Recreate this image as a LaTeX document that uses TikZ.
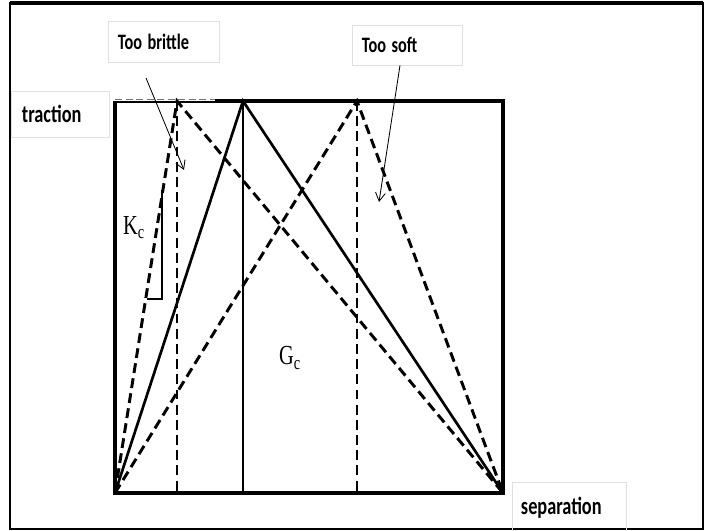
\documentclass[tikz,border=0pt]{standalone}
\usepackage{graphicx}
\usepackage{fontspec}
\setmainfont{Liberation Serif}
\newfontfamily\calib{Carlito}
\usepackage{tikz}
\usetikzlibrary{arrows.meta, positioning, calc}
\tikzset{
    tsframe/.style={line width=2.7pt},
    tssolid/.style={line width=1.9pt},
    tsdash/.style={line width=2.1pt, dash pattern=on 7pt off 3.8pt},
    tslabel/.style={draw=black!12, line width=0.6pt, inner xsep=0.25cm, align=left, font=\calib\bfseries\fontsize{11.6}{14}\selectfont},
    tsarrow/.style={-{Straight Barb[length=6pt, width=7pt]}, line width=0.6pt},
    tsmath/.style={font=\fontsize{14.5}{16}\selectfont}
}
\newcommand{\tall}[1]{\scalebox{1}[1.35]{#1}}

\begin{document}
\begin{tikzpicture}[x=0.025cm, y=-0.025cm]
  \clip (0,0) rectangle (705,531);
  % outer frame
  \draw[line width=1.6pt] (10,3) rectangle (703,529);
  \draw[line width=2.4pt] (10,3) -- (703,3);
  % box corners and peaks
  \coordinate (o) at (115,493);
  \coordinate (e) at (503,493);
  \coordinate (tl) at (115,101);
  \coordinate (tr) at (503,101);
  \coordinate (cut) at (215,101);
  \coordinate (pb) at (177,101);
  \coordinate (pm) at (243,101);
  \coordinate (ps) at (357,101);
  \draw[tsframe] (cut) -- (tr) -- (e) -- (o) -- (tl);
  \draw[line width=1.4pt] ([yshift=-0.7pt]tl) -- ([yshift=-0.7pt]cut);
  \draw[line width=1.1pt, black!55, dash pattern=on 5pt off 2.5pt] ([yshift=1pt]tl) -- ([yshift=1pt]cut);
  % laws
  \draw[tssolid] (o) -- (pm) -- (e);
  \draw[tssolid] (pm) -- (pm |- o);
  \draw[tsdash] (o) -- (pb) -- (e);
  \draw[tsdash] (pb) -- (pb |- o);
  \draw[tsdash] (o) -- (ps) -- (e);
  \draw[tsdash] (ps) -- (ps |- o);
  % stiffness mark
  \draw[line width=1.2pt] (162,190) -- (162,299) -- (147,299);
  \node[tsmath] (kc) at (134,228) {\tall{K\textsubscript{c}}};
  \node[tsmath] (gc) at (290,358) {\tall{G\textsubscript{c}}};
  % callouts
  \node[tslabel, text width=2.275cm, minimum height=1.025cm] (brittle) at (163.5,41.5) {\tall{Too brittle}};
  \node[tslabel, text width=2.25cm, minimum height=1cm] (soft) at (407,45) {\tall{Too soft}};
  \node[tslabel, font=\calib\bfseries\fontsize{13}{15}\selectfont, inner xsep=0.275cm, text width=1.9cm, minimum height=1.15cm] (trac) at (60,114) {\tall{traction}};
  \node[tslabel, font=\calib\bfseries\fontsize{13}{15}\selectfont, inner xsep=0.225cm, text width=2.4cm, minimum height=1.3cm] (sep) at (569,508) {\tall{separation}};
  \coordinate (bstart) at (146,78);
  \coordinate (btip) at (184,170);
  \coordinate (stip) at (379,202);
  \draw[tsarrow] (bstart) -- (btip);
  \draw[tsarrow] ([xshift=-0.175cm]soft.south) -- (stip);
\end{tikzpicture}
\end{document}
